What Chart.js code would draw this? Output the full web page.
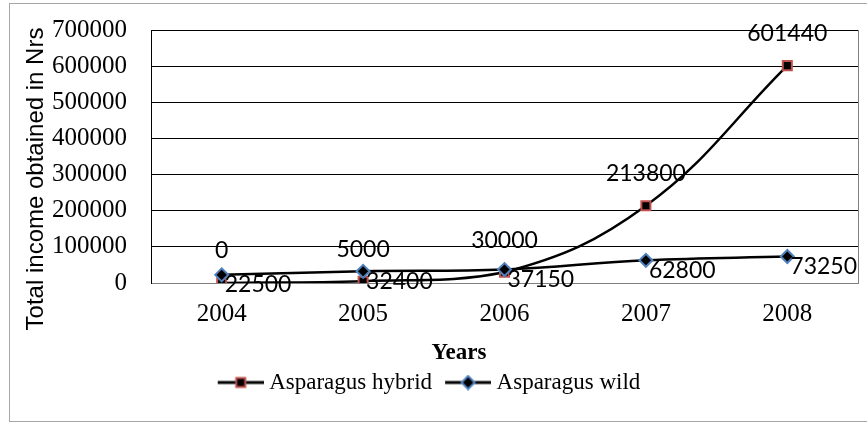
<!DOCTYPE html>
<html>
<head>
<meta charset="utf-8">
<script src="https://cdn.jsdelivr.net/npm/chart.js@4/dist/chart.umd.min.js"></script>
<style>
  body { margin: 0; background: #fff; }
  #wrap { width: 867px; height: 423px; position: relative; }
</style>
</head>
<body>
<div id="wrap"><canvas id="incomeChart"></canvas></div>
<script>
const years = ['2004', '2005', '2006', '2007', '2008'];
const hybrid = [0, 5000, 30000, 213800, 601440];
const wild = [22500, 32400, 37150, 62800, 73250];
const yMax = 700000;
const yStep = 100000;


// little line+marker pictures for the legend
function makeIcon(shape, edge) {
    const c = document.createElement('canvas');
    c.width = 52;
    c.height = 16;
    const g = c.getContext('2d');
    g.strokeStyle = '#000';
    g.lineWidth = 3;
    g.beginPath();
    g.moveTo(6, 8);
    g.lineTo(52, 8);
    g.stroke();
    g.fillStyle = '#000';
    g.strokeStyle = edge;
    g.lineWidth = 2;
    g.beginPath();
    if (shape === 'rect') {
        g.rect(24.5, 3.5, 9, 9);
    } else {
        g.moveTo(29, 1.5);
        g.lineTo(35.5, 8);
        g.lineTo(29, 14.5);
        g.lineTo(22.5, 8);
        g.closePath();
    }
    g.fill();
    g.stroke();
    return c;
}

const legendIcons = [makeIcon('rect', '#C0504D'), makeIcon('rectRot', '#4F81BD')];


const extras = {
    id: 'extras',
    beforeDraw(chart) {
        const ctx = chart.ctx;
        ctx.save();
        ctx.strokeStyle = '#a6a6a6';
        ctx.lineWidth = 1;
        ctx.strokeRect(9.5, 3.5, 880, 418);
        ctx.restore();
    },
    beforeDatasetsDraw(chart) {
        const ctx = chart.ctx;
        const a = chart.chartArea;
        ctx.save();
        ctx.strokeStyle = '#808080';
        ctx.lineWidth = 1;
        ctx.beginPath();
        ctx.moveTo(Math.round(a.right) + 0.5, a.top);
        ctx.lineTo(Math.round(a.right) + 0.5, a.bottom);
        ctx.stroke();
        ctx.restore();
    },
    afterDatasetsDraw(chart) {
        const ctx = chart.ctx;
        ctx.save();
        ctx.font = '23px Lato';
        ctx.fillStyle = '#000';
        ctx.textBaseline = 'middle';
        ctx.textAlign = 'center';
        chart.getDatasetMeta(0).data.forEach(function (pt, i) {
            ctx.fillText(String(hybrid[i]), pt.x, pt.y - 32);
        });
        ctx.textAlign = 'left';
        chart.getDatasetMeta(1).data.forEach(function (pt, i) {
            ctx.fillText(String(wild[i]), pt.x + 3, pt.y + 10);
        });
        ctx.restore();
    },
    afterDraw(chart) {
        const ctx = chart.ctx;
        ctx.save();
        ctx.fillStyle = '#000';
        ctx.textAlign = 'center';
        ctx.textBaseline = 'middle';
        ctx.font = 'bold 23px "Liberation Serif"';
        ctx.fillText('Years', 459, 353);
        ctx.translate(36, 179);
        ctx.rotate(-Math.PI / 2);
        ctx.font = '24px "Liberation Sans"';
        ctx.fillText('Total income obtained in Nrs', 0, 0);
        ctx.restore();
    }
};


const incomeChart = new Chart(document.getElementById('incomeChart'), {
    type: 'line',
    data: {
        labels: years,
        datasets: [
            {
                label: 'Asparagus hybrid',
                data: hybrid,
                borderColor: '#000',
                borderWidth: 2.5,
                tension: 0.4,
                pointStyle: 'rect',
                pointRadius: 6.4,
                pointBackgroundColor: '#000',
                pointBorderColor: '#C0504D',
                pointBorderWidth: 2,
                order: 1
            },
            {
                label: 'Asparagus wild',
                data: wild,
                borderColor: '#000',
                borderWidth: 2.5,
                tension: 0.4,
                pointStyle: 'rectRot',
                pointRadius: 6.5,
                pointBackgroundColor: '#000',
                pointBorderColor: '#4F81BD',
                pointBorderWidth: 2,
                order: 0
            }
        ]
    },
    options: {
        responsive: true,
        maintainAspectRatio: false,
        animation: false,
        events: [],
        layout: {
            padding: {top: 30, right: 9, bottom: 19, left: 0}
        },
        scales: {
            x: {
                offset: true,
                grid: {display: true, drawOnChartArea: false, drawTicks: false, color: 'transparent'},
                border: {display: true, color: '#808080', width: 1},
                ticks: {
                    color: '#000',
                    padding: 16,
                    font: {family: 'Liberation Serif', size: 25}
                },
                afterFit: function (scale) { scale.height = 75; }
            },
            y: {
                min: 0,
                max: yMax,
                grid: {
                    drawTicks: true,
                    tickLength: 20,
                    tickColor: 'transparent',
                    lineWidth: 1,
                    color: function (c) { return c.tick && c.tick.value === 0 ? 'transparent' : '#000'; }
                },
                border: {display: true, color: '#000', width: 1},
                ticks: {
                    stepSize: yStep,
                    color: '#000',
                    padding: 4,
                    font: {family: 'Liberation Serif', size: 25},
                    callback: function (v) { return String(v); }
                },
                afterFit: function (scale) { scale.width = 151; }
            }
        },
        plugins: {
            tooltip: {enabled: false},
            legend: {
                position: 'bottom',
                labels: {
                    usePointStyle: true,
                    pointStyleWidth: 40,
                    padding: 13,
                    color: '#000',
                    font: {family: 'Liberation Serif', size: 23},
                    generateLabels: function (chart) {
                        return chart.data.datasets.map(function (ds, i) {
                            return {
                                text: ds.label,
                                pointStyle: legendIcons[i],
                                fillStyle: '#000',
                                strokeStyle: '#000',
                                lineWidth: 0,
                                hidden: false,
                                datasetIndex: i
                            };
                        });
                    }
                }
            }
        }
    },
    plugins: [extras]
});
</script>
</body>
</html>
